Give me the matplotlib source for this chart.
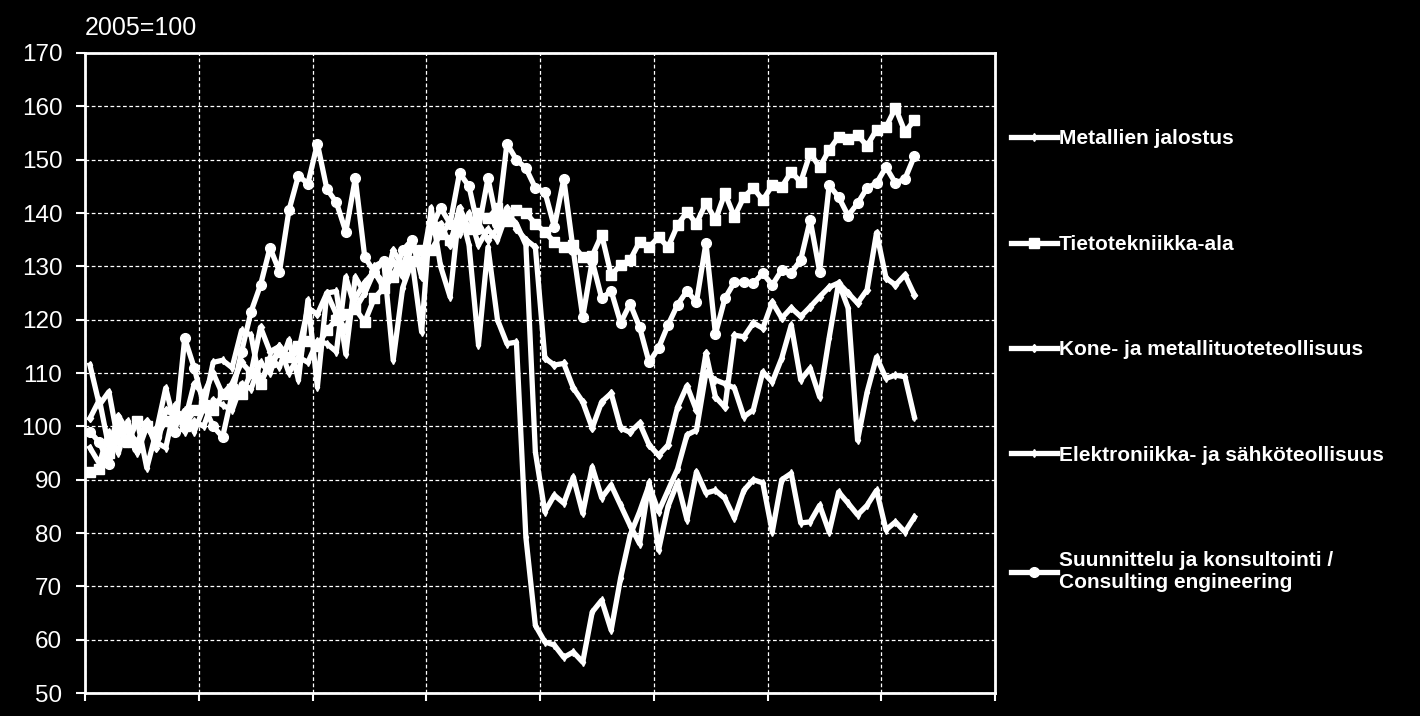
import numpy as np
import matplotlib.pyplot as plt

plt.rcParams['font.family'] = ['Liberation Sans', 'DejaVu Sans']

# Kuukausittaiset indeksit 2005M01-2012M04, 2005=100
metallien_jalostus = [
    111.5, 104, 106.5, 97, 98, 101, 92.2, 99, 107.2, 100, 103, 99,
    103.5, 112, 112.4, 111, 118, 117.1, 107.7, 113, 111.1, 116.2, 108.7, 123.7,
    107.4, 125, 125.3, 113.5, 128, 125, 130, 131, 112.4, 126, 131, 117.7,
    141, 130, 124.3, 141, 134, 115.3, 133.6, 120, 115.5, 115.8, 79.2, 62.7,
    59.6, 59, 56.7, 57.7, 55.8, 65.2, 67.4, 61.8, 71.6, 79.6, 84, 89,
    84, 88, 92, 98.4, 99.3, 110, 108.7, 108, 107.2, 101.8, 103.1, 110.2,
    108.3, 112.8, 119, 108.7, 110.9, 105.5, 116.6, 126.9, 122.2, 97.4, 106.4, 113,
    109, 109.6, 109.3, 101.7,
]
tietotekniikka = [
    91.5, 92, 95, 100, 97, 101, 100, 99, 101, 102, 100, 103,
    104, 103, 106, 107, 106, 110, 108, 112, 114, 113, 115, 116,
    115, 118, 120, 121, 122, 119.6, 124, 126, 128, 130, 131, 133,
    133, 136, 135, 138, 137, 140, 139, 141, 138.5, 140.5, 140, 138,
    136.4, 134.6, 133.6, 134, 131.7, 132, 135.9, 128.4, 130.3, 131.2, 134.6, 133.6,
    135.5, 133.6, 137.7, 140.2, 138, 141.9, 138.7, 143.7, 139.3, 143, 144.7, 142.4,
    145.2, 144.9, 147.7, 145.8, 151.2, 148.6, 151.8, 154.3, 153.8, 154.6, 152.6, 155.6,
    156.1, 159.7, 155.2, 157.4,
]
kone_metalli = [
    101.5, 105, 96, 102, 99, 97, 101, 96, 103, 102, 101, 108,
    106, 110, 106, 108, 112, 110, 118.6, 114, 115, 113, 114, 122.2,
    121, 125, 121, 118, 124, 127, 129, 126, 133, 130, 135, 128,
    137, 138, 134, 141, 137, 138, 135, 137, 141, 137, 135, 133.6,
    112.8, 111.5, 111.8, 107.2, 104.6, 99.7, 104.6, 106.2, 99.7, 98.9, 100.6, 96.5,
    94.6, 96.5, 103.6, 107.6, 103, 113.7, 105.5, 103.6, 117.1, 116.8, 119.4, 118.4,
    123.3, 120.3, 122.2, 120.6, 122.4, 124.3, 126.1, 126.9, 125, 123.1, 125.6, 136.3,
    127.8, 126.5, 128.4, 124.6,
]
elektroniikka = [
    96, 93, 99, 95, 101, 95, 100, 97, 96, 104, 99, 101,
    100, 105, 104, 103, 108, 107, 112, 110, 115, 110, 113, 112,
    116, 115.5, 114, 128, 122, 125, 129, 127, 131, 128, 134, 130,
    140, 136, 138, 136, 140, 134, 137, 135, 140, 138, 134, 95.2,
    84, 87.1, 85.6, 90.5, 83.7, 92.4, 86.6, 89, 85.2, 81.4, 78, 89.5,
    76.8, 85, 89.5, 82.5, 91.5, 87.5, 88, 86.5, 82.8, 88, 90, 89.4,
    80.2, 90, 91.2, 81.9, 82.1, 85.2, 80.2, 87.7, 85.6, 83.4, 85.2, 88,
    80.6, 82.1, 80.2, 83,
]
suunnittelu = [
    99, 97, 93, 99, 97, 96, 100, 98, 101, 99, 116.5, 111,
    104, 100, 98, 106, 114, 121.5, 126.5, 133.5, 129, 140.5, 147, 145.5,
    153, 144.5, 142, 136.5, 146.5, 131.7, 129, 131, 128, 133, 135, 130,
    137, 141, 138, 147.5, 145, 137, 146.5, 138, 153, 150, 148.4, 144.7,
    144, 137.4, 146.4, 133, 120.5, 131, 124, 125.4, 119.4, 123, 118.6, 112,
    114.7, 119, 122.8, 125.4, 123.3, 134.4, 117.3, 124, 127, 127, 126.8, 128.7,
    126.5, 129.3, 128.8, 131.2, 138.7, 129, 145.2, 143, 139.5, 141.8, 144.7, 145.6,
    148.6, 145.6, 146.4, 150.7,
]

labels = ['Metallien jalostus', 'Tietotekniikka-ala', 'Kone- ja metallituoteteollisuus',
          'Elektroniikka- ja sähköteollisuus',
          'Suunnittelu ja konsultointi /\nConsulting engineering']
markers = ['d', 's', 'd', 'd', 'o']
msizes = [4, 7, 4.5, 4, 7]

x = np.arange(len(tietotekniikka))

fig = plt.figure(figsize=(14.2, 7.16), dpi=100, facecolor='black')
ax = fig.add_axes([0.06, 0.032, 0.6407, 0.894], facecolor='black')

series = [metallien_jalostus, tietotekniikka, kone_metalli, elektroniikka, suunnittelu]
for s, lab, m, ms in zip(series, labels, markers, msizes):
    ax.plot(x, s, color='white', lw=3.8, marker=m, markersize=ms,
            markerfacecolor='white', markeredgecolor='white', label=lab)

ax.set_xlim(-0.5, 95.5)
ax.set_ylim(50, 170)
ax.set_yticks(np.arange(50, 171, 10))
ax.set_xticks(np.arange(-0.5, 96, 12))
ax.set_xticklabels([])
ax.tick_params(axis='y', colors='white', labelsize=17.5, length=6.5, width=1.5, pad=10)
ax.tick_params(axis='x', colors='white', length=6, width=1.5, direction='out')
for sp in ax.spines.values():
    sp.set_color('white')
    sp.set_linewidth(2)
ax.grid(True, color='white', linestyle=(0, (3, 2)), linewidth=0.9)

fig.text(0.06, 0.961, '2005=100', color='white', fontsize=18, va='center', ha='left')

leg = ax.legend(loc='upper left', bbox_to_anchor=(0.997, 0.91), frameon=False,
                labelspacing=4.15, handlelength=2.2, handletextpad=0.1,
                prop={'weight': 'bold', 'size': 15})
for t in leg.get_texts():
    t.set_color('white')

fig.savefig('out.png', facecolor='black')
